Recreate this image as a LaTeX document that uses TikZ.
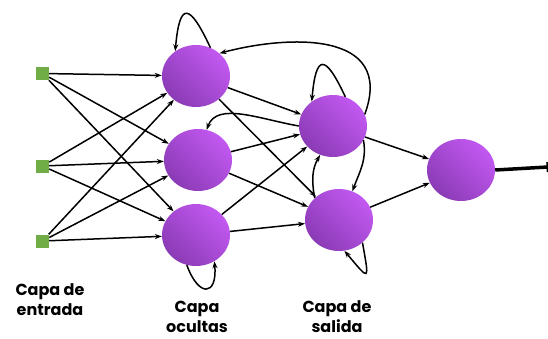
\documentclass[tikz,border=0pt]{standalone}
\usepackage{fontspec}
\setmainfont{Poppins}
\usepackage{xcolor}
\usepackage{tikz}
\usetikzlibrary{arrows.meta,shapes.geometric}
\definecolor{verde}{HTML}{70AD47}
\definecolor{lila}{HTML}{C258F1}
\definecolor{morado}{HTML}{8B3BB6}
\tikzset{>={Stealth[length=7pt,width=5pt]}}
\tikzset{
  entrada/.style={rectangle,fill=verde,minimum size=13pt,inner sep=0pt},
  neurona/.style={ellipse,minimum width=68pt,minimum height=62pt,inner sep=0pt,
    left color=morado,right color=lila,shading angle=135},
  capa/.style={align=center,font=\bfseries\fontsize{16}{20}\selectfont},
  enlace/.style={->,line width=1.5pt}
}

\begin{document}
\begin{tikzpicture}[x=1pt,y=1pt]
  \useasboundingbox (0,0) rectangle (548,338);
  \node[entrada] (Entrada1) at (42.5,264.5) {};
  \node[entrada] (Entrada2) at (42.5,172) {};
  \node[entrada] (Entrada3) at (42.5,97) {};
  \node[neurona] (Oculta1) at (196,262) {};
  \node[neurona] (Oculta2) at (198,178) {};
  \node[neurona] (Oculta3) at (196,103) {};
  \node[neurona] (Salida1) at (333,212) {};
  \node[neurona] (Salida2) at (339,118) {};
  \node[neurona] (Final) at (461,168) {};
  \coordinate (Fin) at (548,171);
  \node[capa] (CapaEntrada) at (50,38) {Capa de\\entrada};
  \node[capa] (CapaOcultas) at (197,21) {Capa\\ocultas};
  \node[capa] (CapaSalida) at (337,21) {Capa de\\salida};
  % entradas a capa oculta
  \foreach \i in {1,2,3}
    \foreach \j in {1,2,3}
      \draw[enlace] (Entrada\i) -- (Oculta\j);
  % capa oculta a capa de salida
  \foreach \j in {1,2,3}
    \foreach \k in {1,2}
      \draw[enlace] (Oculta\j) -- (Salida\k);
  \draw[enlace] (Salida1) -- (Final);
  \draw[enlace] (Salida2) -- (Final);
  \draw[-{Bar[width=10pt,line width=1.5pt]},line width=3.5pt] (Final.east) -- (Fin);
  % recurrencias
  \draw[enlace] (Oculta1.63) to[out=115,in=85,distance=50pt] (Oculta1.130);
  \draw[enlace] (Salida1.67) to[out=115,in=85,distance=48pt] (Salida1.131);
  \draw[enlace] (Oculta3.-107) to[out=-70,in=-85,distance=35pt] (Oculta3.-55);
  \draw[enlace] (Salida2.-44) to[out=-80,in=-50,distance=40pt] (Salida2.-80);
  \draw[enlace] (Salida1.-25) to[out=-80,in=70] (Salida2.65);
  \draw[enlace] (Salida2.138) to[out=100,in=-120] (Salida1.-114);
  \draw[enlace] (Salida1.20) .. controls +(70:90) and +(15:70) .. (Oculta1.44);
  \draw[enlace] (Salida1.180) .. controls +(170:40) and +(70:30) .. (Oculta2.74);
\end{tikzpicture}
\end{document}
